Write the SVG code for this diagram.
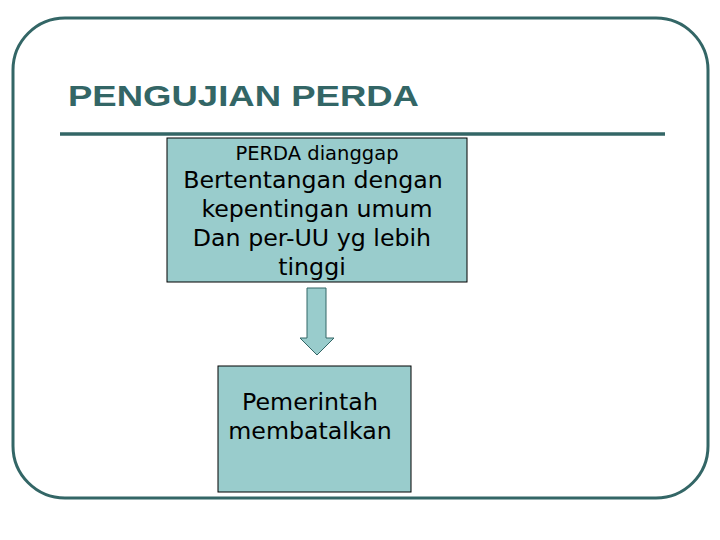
<svg xmlns="http://www.w3.org/2000/svg" width="720" height="540" viewBox="0 0 720 540">
<style>
.frame{fill:none;stroke:#336666;stroke-width:3}
.box{fill:#99CCCC;stroke:#000;stroke-width:1}
.t{font-family:"DejaVu Sans",Verdana,sans-serif;fill:#000;text-anchor:middle}
.title{font-family:"Liberation Sans",Arial,sans-serif;font-weight:bold;font-size:30px;fill:#336666}
</style>
<rect class="frame" x="13" y="18" width="695" height="480" rx="52" ry="52"/>
<text class="title" x="68" y="106" textLength="351" lengthAdjust="spacingAndGlyphs">PENGUJIAN PERDA</text>
<line x1="60" y1="134" x2="665" y2="134" stroke="#336666" stroke-width="3.5"/>
<g id="node1">
<rect class="box" x="167" y="138" width="300" height="144"/>
<text class="t" x="317" y="160" font-size="19.5">PERDA dianggap</text>
<text class="t" x="313" y="188" font-size="23.7">Bertentangan dengan</text>
<text class="t" x="317" y="217" font-size="23.7">kepentingan umum</text>
<text class="t" x="312" y="246" font-size="23.7">Dan per-UU yg lebih</text>
<text class="t" x="312" y="275" font-size="23.7">tinggi</text>
</g>
<g id="connectors">
<path d="M307,288 H326 V338 H334 L317,355 L300,338 H307 Z" fill="#99CCCC" stroke="#336666" stroke-width="1"/>
</g>
<g id="node2">
<rect class="box" x="218" y="366" width="193" height="126"/>
<text class="t" x="310" y="410" font-size="23.7">Pemerintah</text>
<text class="t" x="310" y="439" font-size="23.7">membatalkan</text>
</g>
</svg>
